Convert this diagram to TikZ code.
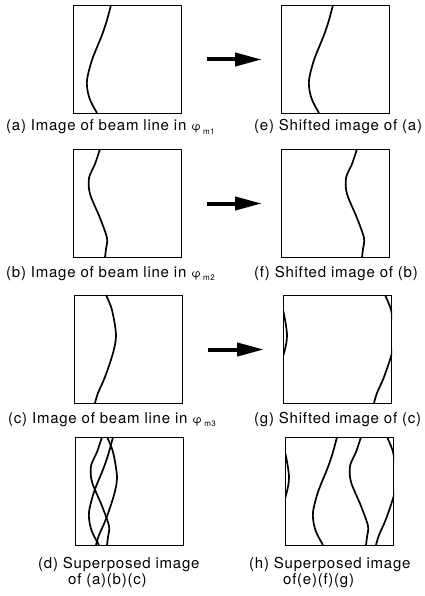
\documentclass[tikz,border=0pt]{standalone}
\usepackage{fontspec}
\setmainfont[LetterSpace=5]{TeX Gyre Heros}
\usetikzlibrary{arrows.meta}

\newcommand{\phim}[1]{{\fontsize{11}{11}\selectfont φ}\,\raisebox{-0.5ex}{\fontsize{8}{8}\selectfont #1}}

\tikzset{
  frame/.style={draw, line width=1pt, anchor=north west, inner sep=0pt,
    minimum width=108pt, minimum height=108pt},
  beam/.style={line width=1.7pt},
  shiftarrow/.style={line width=4pt, -{Triangle[length=27pt,width=13pt]},
    shorten <=25pt, shorten >=19pt},
  caption/.style={anchor=base west, inner sep=0pt, font=\fontsize{15}{16}\selectfont},
  pics/lineA/.style={code={\draw[beam] plot[smooth] coordinates
    {(38,0) (34,15) (29,30) (19,55) (14,75) (15,88) (18,97) (24,108)};}},
  pics/lineB/.style={code={\draw[beam] plot[smooth] coordinates
    {(27,0) (22,15) (16,29) (17,45) (27,69) (34,89) (33,100) (32,108)};}},
  pics/lineC/.style={code={\draw[beam] plot[smooth] coordinates
    {(32,0) (38,15) (42,40) (39,58) (31,82) (24,98) (21,108)};}}
}

\begin{document}
\begin{tikzpicture}[x=1pt, y=-1pt]
  \useasboundingbox (0,0) rectangle (424,596);
  %
  \node[frame] (boxA) at (73,5) {};
  \node[frame] (boxE) at (281,5) {};
  \node[frame] (boxB) at (73,149) {};
  \node[frame] (boxF) at (281,149) {};
  \node[frame] (boxC) at (74,295) {};
  \node[frame] (boxG) at (283,295) {};
  \node[frame] (boxD) at (75,437) {};
  \node[frame] (boxH) at (285,437) {};
  %
  % beam lines in phi_m1, phi_m2, phi_m3
  \pic at (boxA.north west) {lineA};
  \pic at (boxB.north west) {lineB};
  \pic at (boxC.north west) {lineC};
  %
  % shifted images
  \pic[xshift=14pt] at (boxE.north west) {lineA};
  \pic[xshift=49pt] at (boxF.north west) {lineB};
  \begin{scope}
    \clip (boxG.north west) rectangle (boxG.south east);
    \pic[xshift=70pt] at (boxG.north west) {lineC};
    \pic[xshift=-38pt] at (boxG.north west) {lineC};
  \end{scope}
  %
  % superposed images
  \pic at (boxD.north west) {lineA};
  \pic at (boxD.north west) {lineB};
  \pic at (boxD.north west) {lineC};
  \begin{scope}
    \clip (boxH.north west) rectangle (boxH.south east);
    \pic[xshift=14pt] at (boxH.north west) {lineA};
    \pic[xshift=49pt] at (boxH.north west) {lineB};
    \pic[xshift=70pt] at (boxH.north west) {lineC};
    \pic[xshift=-38pt] at (boxH.north west) {lineC};
  \end{scope}
  %
  \draw[shiftarrow] (boxA) -- (boxE);
  \draw[shiftarrow] (boxB) -- (boxF);
  \draw[shiftarrow] (boxC) -- (boxG);
  %
  \node[caption] (labA) at (6,131) {(a) Image of beam line in \phim{m1}};
  \node[caption] (labE) at (254,131) {(e) Shifted image of (a)};
  \node[caption] (labB) at (6,277) {(b) Image of beam line in \phim{m2}};
  \node[caption] (labF) at (254,277) {(f) Shifted image of (b)};
  \node[caption] (labC) at (8,423) {(c) Image of beam line in \phim{m3}};
  \node[caption] (labG) at (254,423) {(g) Shifted image of (c)};
  \node[caption] (labD) at (38,568) {(d) Superposed image};
  \node[caption] (labD2) at (68,584) {of (a)(b)(c)};
  \node[caption] (labH) at (249,568) {(h) Superposed image};
  \node[caption] (labH2) at (283,584) {of(e)(f)(g)};
\end{tikzpicture}
\end{document}
